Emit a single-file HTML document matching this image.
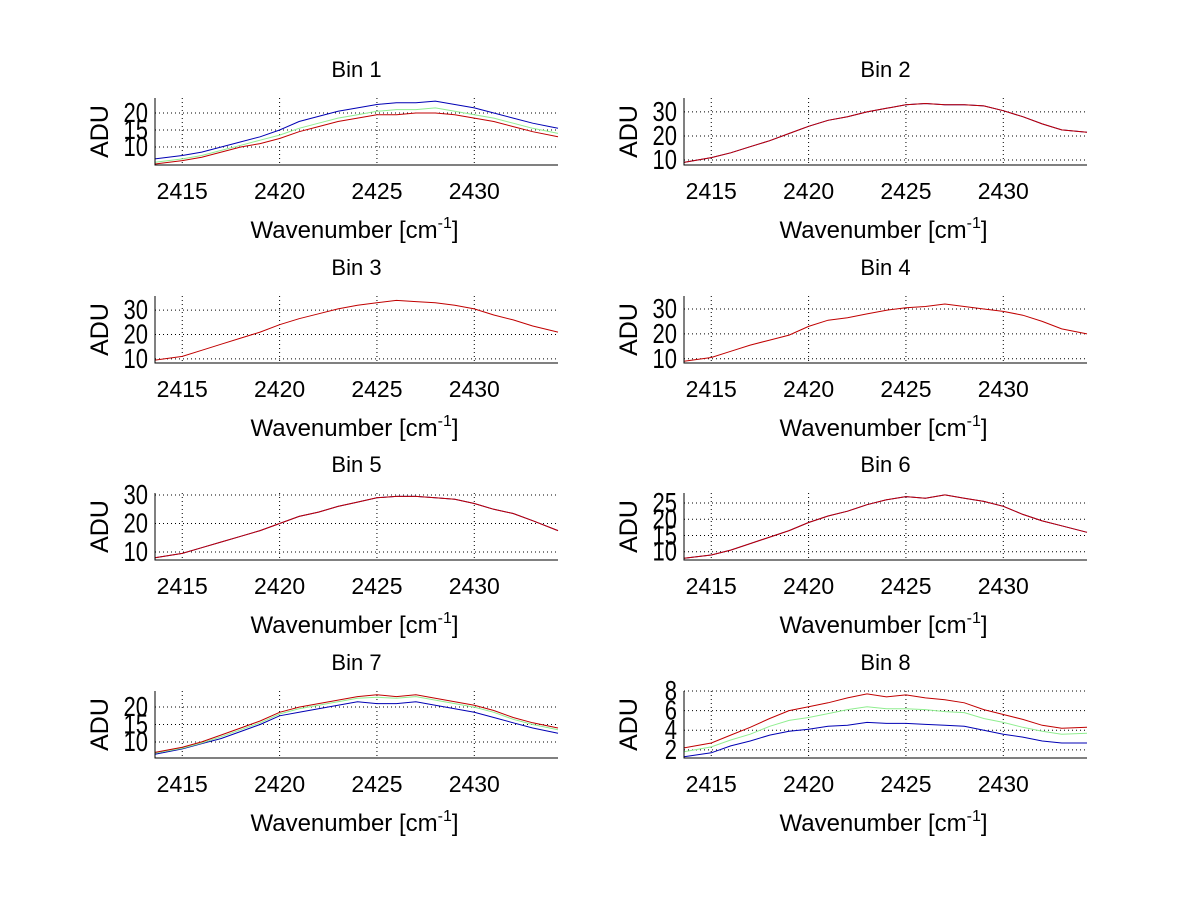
<!DOCTYPE html>
<html><head><meta charset="utf-8"><style>
body{margin:0;background:#fff}
svg{display:block;font-family:"Liberation Sans",sans-serif}
</style></head><body>
<svg id="fig" width="1200" height="901" viewBox="0 0 1200 901"></svg>
<script>
const xs = [2413.6,2415,2416,2417,2418,2419,2420,2421,2422,2423,2424,2425,2426,2427,2428,2429,2430,2431,2432,2433,2434.3];
const xTicks = [2415,2420,2425,2430];
const binTitles = ["Bin 1","Bin 2","Bin 3","Bin 4","Bin 5","Bin 6","Bin 7","Bin 8"];
const yRanges = [[4.7,24.4],[7.9,35.8],[8.3,35.8],[8.3,35.2],[7.2,30.7],[7.45,28.1],[5.4,24.6],[1.17,8]];
const yTicks = [[10,15,20],[10,20,30],[10,20,30],[10,20,30],[10,20,30],[10,15,20,25],[10,15,20],[2,4,6,8]];
const b1Blue = [6.5,7.5,8.5,10,11.5,13,15,17.5,19,20.5,21.5,22.5,23,23,23.5,22.5,21.5,20,18.5,17,15.5];
const b1Green = [5.5,6.5,7.5,9,10.5,12,13.5,15.5,17,18.5,19.5,20.5,21,21,21.5,20.5,19.5,18.5,17,15.5,14];
const b1Red = [5,6,7,8.5,10,11,12.5,14.5,16,17.5,18.5,19.5,19.5,20,20,19.5,18.5,17.5,16,14.5,13];
const b2Blue = [9,11,13,15.5,18,21,24,26.5,28,30,31.5,33,33.5,33,33,32.5,30.5,28,25,22.5,21.5];
const b2Red = [9,11,13,15.5,18,21,24,26.5,28,30,31.5,33,33.5,33,33,32.5,30.5,28,25,22.5,21.5];
const b3Red = [9.5,11,13.5,16,18.5,21,24,26.5,28.5,30.5,32,33,34,33.5,33,32,30.5,28,26,23.5,21];
const b4Red = [9,10.5,13,15.5,17.5,19.5,23,25.5,26.5,28,29.5,30.5,31,32,31,30,29,27.5,25,22,20];
const b5Blue = [8,9.5,11.5,13.5,15.5,17.5,20,22.5,24,26,27.5,29,29.5,29.5,29,28.5,27,25,23.5,21,17.5];
const b5Red = [8,9.5,11.5,13.5,15.5,17.5,20,22.5,24,26,27.5,29,29.5,29.5,29,28.5,27,25,23.5,21,17.5];
const b6Blue = [8,9,10.5,12.5,14.5,16.5,19,21,22.5,24.5,26,27,26.5,27.5,26.5,25.5,24,21.5,19.5,18,16];
const b6Red = [8,9,10.5,12.5,14.5,16.5,19,21,22.5,24.5,26,27,26.5,27.5,26.5,25.5,24,21.5,19.5,18,16];
const b7Blue = [6.5,8,9.5,11,13,15,17.5,18.5,19.5,20.5,21.5,21,21,21.5,20.5,19.5,18.5,17,15.5,14,12.5];
const b7Green = [6.8,8.2,9.7,11.5,13.5,15.5,18,19.5,20.5,21.5,22.5,22.8,22.5,23,22,21,20,18.5,16.5,15,13.5];
const b7Red = [7,8.5,10,12,14,16,18.5,20,21,22,23,23.5,23,23.5,22.5,21.5,20.5,19,17,15.5,14];
const b8Red = [2.2,2.7,3.5,4.3,5.2,6,6.4,6.8,7.3,7.7,7.4,7.6,7.3,7.1,6.8,6.1,5.6,5.1,4.5,4.2,4.3];
const b8Green = [1.8,2.3,3,3.6,4.4,5,5.3,5.7,6.1,6.4,6.2,6.2,6.1,5.9,5.8,5.2,4.8,4.3,3.9,3.6,3.7];
const b8Blue = [1.3,1.7,2.4,2.9,3.5,3.9,4.1,4.4,4.5,4.8,4.7,4.7,4.6,4.5,4.4,4,3.6,3.3,2.9,2.7,2.7];

const BLUE="#0000b4", GREEN="#90ee90", RED="#c00000";
const series = [
 [[b1Blue,BLUE],[b1Green,GREEN],[b1Red,RED]],
 [[b2Blue,BLUE],[b2Red,RED]],
 [[b3Red,RED]],
 [[b4Red,RED]],
 [[b5Blue,BLUE],[b5Red,RED]],
 [[b6Blue,BLUE],[b6Red,RED]],
 [[b7Blue,BLUE],[b7Green,GREEN],[b7Red,RED]],
 [[b8Blue,BLUE],[b8Green,GREEN],[b8Red,RED]]
];
const NS="http://www.w3.org/2000/svg";
const svg=document.getElementById('fig');
function mk(tag,attrs,parent){const e=document.createElementNS(NS,tag);for(const k in attrs)e.setAttribute(k,attrs[k]);parent.appendChild(e);return e;}
const colL=[155,684], W=403, tops=[98,296,493,691], H=67;
const X0=2413.6, X1=2434.3;
for(let i=0;i<8;i++){
  const L=colL[i%2], T=tops[Math.floor(i/2)], R=L+W, B=T+H;
  const [y0,y1]=yRanges[i];
  const sx=v=>L+(v-X0)/(X1-X0)*W;
  const sy=v=>B-(v-y0)/(y1-y0)*H;
  const g=mk('g',{},svg);
  
  
  xTicks.forEach(t=>{
    const l=mk('line',{x1:sx(t),x2:sx(t),y1:T,y2:B,stroke:'#000','stroke-width':1,'stroke-dasharray':'1,3'},g);
    
    
    const tl=mk('text',{x:sx(t),y:B+34,'font-size':23,'text-anchor':'middle',fill:'#000'},g);
    tl.textContent=t;
    
    
  });
  yTicks[i].forEach(t=>{
    const l=mk('line',{x1:L,x2:R,y1:sy(t),y2:sy(t),stroke:'#000','stroke-width':1,'stroke-dasharray':'1,3'},g);
    
    
    const tl=mk('text',{x:0,y:0,'font-size':22,'text-anchor':'end',fill:'#000',transform:`translate(${L-7},${sy(t)+9}) scale(1,1.25)`},g);
    tl.textContent=t;
    
    
  });
  series[i].forEach(([vals,col])=>{
    const pts=vals.map((v,k)=>sx(xs[k]).toFixed(1)+','+sy(v).toFixed(1)).join(' ');
    const p=mk('polyline',{points:pts,fill:'none',stroke:col,'stroke-width':1},g);
    
    
  });
  const ax=mk('path',{d:`M${L},${T} L${L},${B} L${R},${B}`,fill:'none',stroke:'#000','stroke-width':1},g);
  
  
  const ti=mk('text',{x:L+W/2,y:T-21,'font-size':22,'text-anchor':'middle',fill:'#000'},g);
  ti.textContent=binTitles[i];
  
  
  const xl=mk('text',{x:L+W/2-2,y:B+73,'font-size':24,'text-anchor':'middle',fill:'#000'},g);
  xl.innerHTML='Wavenumber [cm<tspan dy="-10" font-size="16">-1</tspan><tspan dy="10">]</tspan>';
  
  
  const yl=mk('text',{x:0,y:0,'font-size':25,'text-anchor':'middle',fill:'#000',transform:`translate(${L-47},${T+H/2}) rotate(-90)`},g);
  yl.textContent='ADU';
  
  
}
</script>
</body></html>
